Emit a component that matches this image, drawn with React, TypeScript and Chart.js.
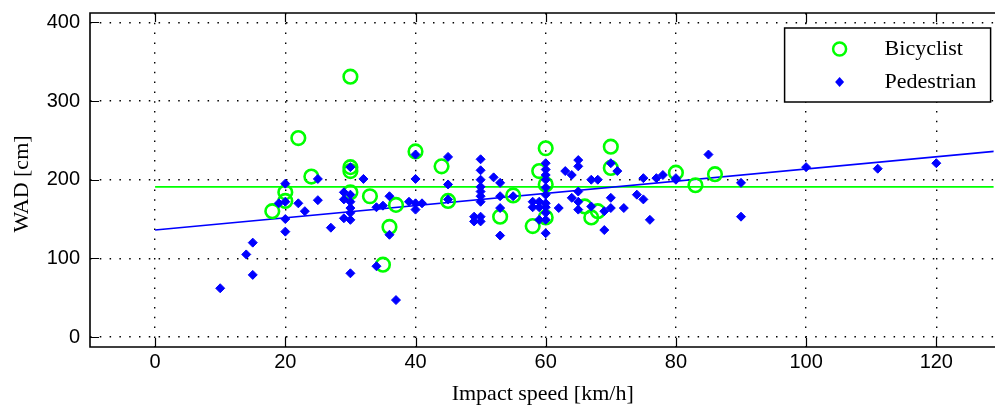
import React, { useEffect, useRef } from 'react';
import { Chart, registerables } from 'chart.js';

Chart.register(...registerables);

const seriesLabels = ['Bicyclist', 'Pedestrian'];
const xTitle = 'Impact speed [km/h]';
const yTitle = 'WAD [cm]';
const xTicks = [0, 20, 40, 60, 80, 100, 120];
const yTicks = [0, 100, 200, 300, 400];

const bicyclistX = [18, 20, 20, 22, 24, 30, 30, 30, 30, 33, 35, 36, 37, 40, 44, 45, 53, 55, 58, 59, 60, 60, 60, 66, 67, 68, 70, 70, 80, 83, 86];
const bicyclistY = [160, 184, 173, 253, 204, 331, 216, 211, 184, 179, 92, 140, 168, 236, 217, 173, 153, 180, 141, 211, 240, 194, 152, 166, 152, 160, 242, 215, 209, 193, 207];

const pedestrianX = [10, 14, 15, 15, 19, 20, 20, 20, 20, 22, 23, 25, 25, 27, 29, 29, 30, 30, 30, 30, 30, 29, 30, 30, 32, 34, 34, 35, 36, 36, 37, 40, 40, 39, 40, 41, 40, 45, 45, 45, 49, 50, 49, 50, 50, 50, 50, 50, 50, 50, 50, 52, 53, 53, 53, 53, 55, 58, 58, 59, 59, 59, 60, 60, 60, 60, 60, 60, 60, 60, 60, 60, 60, 62, 63, 64, 64, 65, 65, 65, 65, 65, 67, 67, 68, 69, 69, 70, 70, 70, 71, 72, 74, 75, 75, 76, 77, 78, 80, 80, 85, 90, 90, 100, 111, 120];
const pedestrianY = [62, 105, 120, 79, 170, 195, 172, 150, 134, 170, 160, 201, 174, 139, 184, 175, 216, 181, 172, 164, 158, 151, 149, 81, 201, 90, 165, 167, 179, 130, 47, 232, 201, 172, 170, 170, 162, 229, 194, 175, 153, 153, 147, 147, 226, 212, 200, 191, 185, 179, 172, 203, 196, 179, 164, 129, 179, 172, 165, 172, 165, 149, 221, 213, 206, 200, 190, 181, 170, 165, 158, 149, 132, 164, 211, 206, 177, 225, 217, 185, 172, 162, 166, 200, 200, 160, 136, 221, 177, 164, 211, 164, 181, 202, 175, 149, 202, 206, 202, 200, 232, 196, 153, 216, 214, 221];

const fitX = [0, 130];
const pedestrianFitY = [136, 237];
const bicyclistMeanY = [191, 191];

const GREEN = '#00ff00';
const BLUE = '#0000ff';
const SERIF = '22px "Liberation Serif", "Times New Roman", serif';

const toPoints = (xs: number[], ys: number[]) => xs.map((x, i) => ({ x, y: ys[i] }));

const framePlugin = {
  id: 'matlabFrame',
  afterDraw(chart: any) {
    const { ctx, chartArea } = chart;
    const { left, right, top, bottom } = chartArea;
    const xs = chart.scales.x;
    const ys = chart.scales.y;
    ctx.save();
    ctx.strokeStyle = '#000';
    ctx.lineWidth = 1.6;
    ctx.beginPath();
    ctx.moveTo(right + 2, top);
    ctx.lineTo(left, top);
    ctx.lineTo(left, bottom);
    ctx.lineTo(right + 2, bottom);
    ctx.stroke();
    const tl = 9;
    ctx.beginPath();
    for (const v of xTicks) {
      const px = Math.round(xs.getPixelForValue(v)) + 0.5;
      ctx.moveTo(px, bottom);
      ctx.lineTo(px, bottom - tl);
      ctx.moveTo(px, top);
      ctx.lineTo(px, top + tl);
    }
    for (const v of yTicks) {
      const py = Math.round(ys.getPixelForValue(v)) + 0.5;
      ctx.moveTo(left, py);
      ctx.lineTo(left + tl, py);
    }
    ctx.lineWidth = 1.2;
    ctx.stroke();

    // axis titles
    ctx.fillStyle = '#000';
    ctx.font = SERIF;
    ctx.textAlign = 'center';
    ctx.textBaseline = 'middle';
    ctx.fillText(xTitle, (xs.getPixelForValue(-10) + xs.getPixelForValue(130)) / 2 - 3, bottom + 47);
    ctx.save();
    ctx.translate(22, (top + bottom) / 2 + 4);
    ctx.rotate(-Math.PI / 2);
    ctx.fillText(yTitle, 0, 0);
    ctx.restore();

    // legend
    const bx = right - 209;
    const by = top + 15;
    const bw = 206;
    const bh = 74;
    ctx.fillStyle = '#fff';
    ctx.fillRect(bx, by, bw, bh);
    ctx.strokeStyle = '#000';
    ctx.lineWidth = 1.5;
    ctx.strokeRect(bx, by, bw, bh);
    const mx = bx + 55;
    const row1 = by + 21;
    const row2 = by + 54;
    ctx.beginPath();
    ctx.arc(mx, row1, 6.5, 0, Math.PI * 2);
    ctx.strokeStyle = GREEN;
    ctx.lineWidth = 2.5;
    ctx.stroke();
    ctx.beginPath();
    ctx.moveTo(mx - 4.5, row2);
    ctx.lineTo(mx, row2 - 5);
    ctx.lineTo(mx + 4.5, row2);
    ctx.lineTo(mx, row2 + 5);
    ctx.closePath();
    ctx.fillStyle = BLUE;
    ctx.fill();
    ctx.fillStyle = '#000';
    ctx.font = SERIF;
    ctx.textAlign = 'left';
    ctx.textBaseline = 'middle';
    ctx.fillText(seriesLabels[0], bx + 100, row1);
    ctx.fillText(seriesLabels[1], bx + 100, row2);
    ctx.restore();
  },
};

export default function App() {
  const ref = useRef<HTMLCanvasElement | null>(null);
  useEffect(() => {
    if (!ref.current) return;
    const chart = new Chart(ref.current, {
      type: 'scatter',
      data: {
        datasets: [
          {
            label: seriesLabels[1],
            data: toPoints(pedestrianX, pedestrianY),
            pointStyle: 'rectRot',
            pointRadius: 4.5,
            pointBackgroundColor: BLUE,
            pointBorderColor: BLUE,
            pointBorderWidth: 1,
            backgroundColor: BLUE,
            borderColor: BLUE,
            order: 0,
          },
          {
            label: seriesLabels[0],
            data: toPoints(bicyclistX, bicyclistY),
            pointStyle: 'circle',
            pointRadius: 6.8,
            pointBackgroundColor: 'rgba(0,0,0,0)',
            pointBorderColor: GREEN,
            pointBorderWidth: 2.6,
            borderColor: GREEN,
            order: 1,
          },
          {
            label: 'Pedestrian fit',
            data: toPoints(fitX, pedestrianFitY),
            showLine: true,
            pointRadius: 0,
            borderColor: BLUE,
            borderWidth: 1.6,
            order: 2,
          },
          {
            label: 'Bicyclist mean',
            data: toPoints(fitX, bicyclistMeanY),
            showLine: true,
            pointRadius: 0,
            borderColor: GREEN,
            borderWidth: 1.8,
            order: 3,
          },
        ],
      },
      options: {
        responsive: false,
        animation: false,
        events: [],
        layout: { padding: { top: 13, right: 0, left: 0, bottom: 0 } },
        plugins: {
          legend: { display: false },
          tooltip: { enabled: false },
          title: { display: false },
        },
        scales: {
          x: {
            type: 'linear',
            min: -10,
            max: 128.8,
            afterBuildTicks: (scale: any) => {
              scale.ticks = xTicks.map((v) => ({ value: v }));
            },
            afterFit: (scale: any) => {
              scale.height = 63;
              scale.paddingLeft = 0;
              scale.paddingRight = 0;
            },
            ticks: {
              color: '#000',
              font: { family: '"Liberation Sans", Arial, sans-serif', size: 20 },
              padding: 3,
              maxRotation: 0,
              autoSkip: false,
            },
            grid: { color: '#000', lineWidth: 1.4, drawTicks: false },
            border: { display: false, dash: [1.5, 8.3] },
          },
          y: {
            type: 'linear',
            min: -12.7,
            max: 412,
            afterBuildTicks: (scale: any) => {
              scale.ticks = yTicks.map((v) => ({ value: v }));
            },
            afterFit: (scale: any) => {
              scale.width = 90;
              scale.paddingTop = 0;
              scale.paddingBottom = 0;
            },
            ticks: {
              color: '#000',
              font: { family: '"Liberation Sans", Arial, sans-serif', size: 20 },
              padding: 10,
              autoSkip: false,
            },
            grid: { color: '#000', lineWidth: 1.4, drawTicks: false },
            border: { display: false, dash: [1.5, 8.3] },
          },
        },
      },
      plugins: [framePlugin],
    });
    return () => chart.destroy();
  }, []);

  return (
    <div style={{ position: 'fixed', left: 0, top: 0, width: 995, height: 410, overflow: 'hidden', background: '#fff' }}>
      <canvas ref={ref} width={1003} height={410} style={{ display: 'block', width: 1003, height: 410 }} />
    </div>
  );
}
